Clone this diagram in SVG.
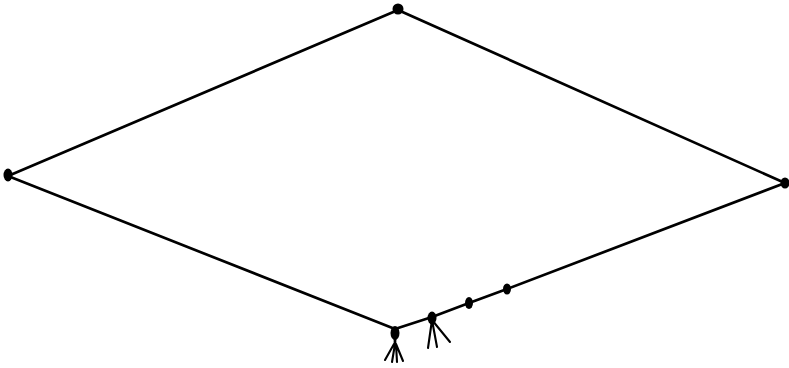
<svg xmlns="http://www.w3.org/2000/svg" width="789" height="368" viewBox="0 0 789 368">
<style>
.e{stroke:#000;stroke-width:2.7;fill:none;stroke-linecap:round}
.t{stroke:#000;stroke-width:2.1;fill:none;stroke-linecap:round}
.d{fill:#000}
</style>
<rect width="789" height="368" fill="#fff"/>
<g id="edges">
<line class="e" x1="398" y1="10" x2="8" y2="176"/>
<line class="e" x1="398" y1="10" x2="785" y2="183"/>
<line class="e" x1="8" y1="176" x2="395" y2="329"/>
<polyline class="e" points="395,329 432,317 469,303 507,289 785,183"/>
</g>
<g id="n-top"><ellipse class="d" cx="398" cy="9" rx="5.5" ry="5.5"/></g>
<g id="n-left"><ellipse class="d" cx="8" cy="175" rx="4.5" ry="6.5"/></g>
<g id="n-right"><ellipse class="d" cx="785" cy="183" rx="4.5" ry="5.5"/></g>
<g id="n-bottom">
<ellipse class="d" cx="395" cy="333" rx="4.5" ry="7"/>
<line class="e" x1="395" y1="330" x2="395" y2="346"/>
<path class="t" d="M394,344 L385,360 M395,344 L392,362 M396,344 L397,362 M396,344 L403,361"/>
</g>
<g id="n-b1">
<ellipse class="d" cx="432" cy="318" rx="4.5" ry="6.5"/>
<path class="t" d="M432,320 L428,348 M432,320 L437,347 M432,320 L450,342"/>
</g>
<g id="n-b2"><ellipse class="d" cx="469" cy="303" rx="4" ry="6"/></g>
<g id="n-b3"><ellipse class="d" cx="507" cy="289" rx="4" ry="5.5"/></g>
</svg>
